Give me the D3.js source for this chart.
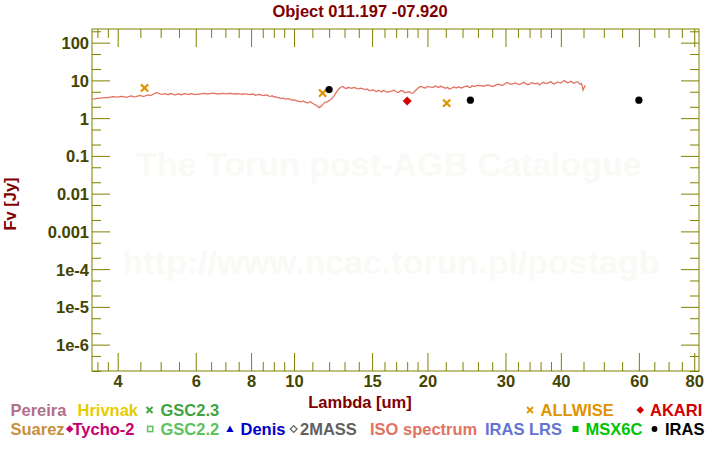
<!DOCTYPE html>
<html><head><meta charset="utf-8">
<script src="https://cdn.jsdelivr.net/npm/d3@7"></script>
<style>
body{margin:0;background:#fff}
svg{display:block}
text{font-family:"Liberation Sans",Arial,Helvetica,sans-serif;font-weight:bold}
</style>
</head><body>
<svg id="chart" width="720" height="450"></svg>
<script>
// ---------- DATA ----------
const isoWave = [
 3.5,3.55,3.6,3.65,3.7,3.75,3.8,3.85,3.9,3.95,4.0,4.05,4.1,4.15,4.2,4.25,4.3,4.35,4.4,4.45,4.5,4.55,4.6,4.65,4.7,4.75,4.8,4.85,4.9,4.95,5.0,5.05,5.1,5.15,5.2,5.25,5.3,5.35,5.4,5.45,5.5,5.55,5.6,5.65,5.7,5.75,5.8,5.85,5.9,5.95,6.0,
 6.08,6.15,6.23,6.3,6.38,6.45,6.53,6.6,6.68,6.75,6.83,6.9,6.98,7.05,7.13,7.2,7.28,7.35,7.43,7.5,7.58,7.65,7.73,7.8,7.88,7.95,8.03,8.1,8.18,8.25,8.33,8.4,8.48,8.55,8.63,8.7,8.78,8.85,8.93,9.0,9.08,9.15,9.23,9.3,9.38,9.45,9.53,9.6,9.68,9.75,9.83,9.9,
 10.0,10.13,10.25,10.38,10.5,10.63,10.75,10.88,11.0,11.13,11.25,11.38,11.5,11.63,11.75,11.88,12.0,12.13,12.25,12.38,12.5,12.63,12.75,12.88,13.0,13.13,13.25,13.38,13.5,13.63,13.75,13.88,14.0,14.13,14.25,14.38,14.5,14.63,14.75,14.88,15.0,15.13,15.25,15.38,15.5,15.63,15.75,15.88,16.0,
 16.2,16.4,16.6,16.8,17.0,17.2,17.4,17.6,17.8,18.0,18.2,18.4,18.6,18.8,19.0,19.2,19.4,19.6,19.8,20.0,20.2,20.4,20.6,20.8,21.0,21.2,21.4,21.6,21.8,22.0,22.2,22.4,22.6,22.8,23.0,23.2,23.4,23.6,23.8,24.0,24.2,24.4,24.6,24.8,25.0,25.2,25.4,25.6,25.8,26.0,
 26.35,26.7,27.05,27.4,27.75,28.1,28.45,28.8,29.15,29.5,29.85,30.2,30.55,30.9,31.25,31.6,31.95,32.3,32.65,33.0,33.35,33.7,34.05,34.4,34.75,35.1,35.45,35.8,36.15,36.5,36.85,37.2,37.55,37.9,38.25,38.6,38.95,39.3,39.65,40.0,40.35,40.7,41.05,41.4,41.75,42.1,42.45,42.8,43.15,43.5,43.85,44.2,44.55,44.9,45.4
];
const isoFlux = [
 3.18,3.22,3.32,3.40,3.46,3.50,3.52,3.62,3.70,3.66,3.62,3.70,3.75,3.64,3.55,3.80,3.86,3.68,3.74,3.90,3.98,3.78,3.85,4.02,4.15,3.95,4.22,4.55,4.75,4.50,4.35,4.25,4.45,4.30,4.18,4.50,4.40,4.22,4.12,4.30,4.38,4.15,4.28,4.48,4.42,4.30,4.20,4.45,4.40,4.22,4.25,
 4.30,4.38,4.46,4.52,4.36,4.44,4.52,4.60,4.42,4.48,4.40,4.55,4.45,4.40,4.55,4.50,4.42,4.36,4.48,4.42,4.35,4.30,4.40,4.38,4.25,4.22,4.30,4.30,4.05,4.12,4.25,4.20,4.02,3.95,4.10,4.05,3.85,3.78,3.90,3.62,3.70,3.55,3.50,3.38,3.30,3.42,3.25,3.18,3.30,3.22,3.08,3.02,
 3.05,2.92,2.78,2.70,2.85,2.62,2.55,2.72,2.48,2.30,2.15,1.90,2.05,2.35,2.62,2.70,2.95,3.20,3.60,4.30,5.10,6.00,6.60,6.90,6.30,6.10,6.55,6.30,6.20,6.55,6.35,6.05,5.95,6.25,6.10,5.85,5.70,5.95,5.45,5.35,5.60,5.50,5.20,5.10,5.45,5.25,4.95,5.40,5.30,
 4.85,5.05,5.20,5.50,5.00,4.80,5.35,5.25,4.70,4.90,5.05,4.55,4.70,5.40,6.10,6.70,6.90,6.40,6.30,6.95,6.70,6.60,6.45,7.10,6.80,6.50,7.00,6.85,6.40,6.20,6.60,5.90,6.10,6.45,6.70,6.30,6.55,6.75,6.30,6.40,6.80,6.95,7.10,6.60,6.45,7.20,7.00,6.85,7.30,7.40,
 7.25,7.00,7.30,7.60,7.15,6.90,7.40,7.90,7.70,7.30,7.95,8.80,8.30,7.90,8.20,8.60,8.05,7.80,8.40,8.90,8.20,7.70,8.10,8.70,8.40,8.10,8.50,7.60,8.30,8.90,8.50,8.20,8.70,9.30,8.60,8.00,8.40,9.10,8.80,8.50,9.20,9.90,9.30,8.70,8.90,9.50,9.00,8.40,8.80,9.20,8.70,7.80,8.30,5.60,7.40
];
const allwiseWave = [4.6, 11.6, 22.1];
const allwiseFlux = [6.3, 4.6, 2.5];
const irasWave = [12, 25, 60];
const irasFlux = [5.7, 3.0, 3.0];
const akariWave = [18];
const akariFlux = [2.83];

const xTickValues = [4,6,8,10,15,20,30,40,60,80];
const xMinorValues = [3.6,3.8,4.5,5,5.5,6.5,7,7.5,8.5,9,9.5,11,12,13,14,16,17,18,19,22,24,26,28,32,34,36,38,45,50,55,65,70,75];
const yTickValues = [1e-6,1e-5,1e-4,1e-3,1e-2,1e-1,1,10,100];
const yTickLabels = ["1e-6","1e-5","1e-4","0.001","0.01","0.1","1","10","100"];
const yMinorValues = [2e-7,5e-7,2e-6,5e-6,2e-5,5e-5,2e-4,5e-4,2e-3,5e-3,2e-2,5e-2,0.2,0.5,2,5,20,50,200];

const legendRow1 = [
 {label:"Pereira", color:"#b26f8a", sym:null},
 {label:"Hrivnak", color:"#e6cc00", sym:null},
 {label:"GSC2.3", color:"#3fa33f", sym:"x"},
 {label:"ALLWISE", color:"#e09400", sym:"x"},
 {label:"AKARI", color:"#d40000", sym:"diamond"}
];
const legendRow2 = [
 {label:"Suarez", color:"#c8903c", sym:null},
 {label:"Tycho-2", color:"#c8006e", sym:"diamond"},
 {label:"GSC2.2", color:"#5cc25c", sym:"square-open"},
 {label:"Denis", color:"#0000c8", sym:"triangle"},
 {label:"2MASS", color:"#606060", sym:"diamond-open"},
 {label:"ISO spectrum", color:"#e27262", sym:null},
 {label:"IRAS LRS", color:"#6474d4", sym:null},
 {label:"MSX6C", color:"#00c400", sym:"square"},
 {label:"IRAS", color:"#000000", sym:"circle"}
];

// ---------- LAYOUT ----------
const svg = d3.select("#chart");
const L = 92, R = 699, T = 29, B = 371;
const axisColor = "#808000", tickLabelColor = "#444400", titleColor = "#800000";
const FS = 16.5;

const x = d3.scaleLog().domain([3.5, 82]).range([L, R]);
const y = d3.scaleLog().domain([2e-7, 230]).range([B, T]);

// watermark
svg.append("text").attr("x", 389).attr("y", 176).attr("text-anchor","middle")
  .attr("font-size", 34).attr("fill", "#faf9f5").text("The Torun post-AGB Catalogue");
svg.append("text").attr("x", 391).attr("y", 274).attr("text-anchor","middle")
  .attr("font-size", 34).attr("fill", "#faf9f5").text("http://www.ncac.torun.pl/postagb");

// title
svg.append("text").attr("x", 360).attr("y", 17).attr("text-anchor","middle")
  .attr("font-size", FS).attr("fill", titleColor).text("Object 011.197 -07.920");

// axes via d3 axis generators
const major = 18, minor = 9;
function addAxis(gen, tr, vals, len) {
  const g = svg.append("g").attr("transform", tr)
    .call(gen.tickValues(vals).tickSize(len).tickFormat(""));
  g.select(".domain").remove();
  g.selectAll(".tick line").attr("stroke", axisColor).attr("stroke-width", 1);
  return g;
}
addAxis(d3.axisTop(x), `translate(0,${B})`, xTickValues, major);
addAxis(d3.axisTop(x), `translate(0,${B})`, xMinorValues, minor);
addAxis(d3.axisBottom(x), `translate(0,${T})`, xTickValues, major);
addAxis(d3.axisBottom(x), `translate(0,${T})`, xMinorValues, minor);
addAxis(d3.axisRight(y), `translate(${L},0)`, yTickValues, major);
addAxis(d3.axisRight(y), `translate(${L},0)`, yMinorValues, minor);
addAxis(d3.axisLeft(y), `translate(${R},0)`, yTickValues, major);
addAxis(d3.axisLeft(y), `translate(${R},0)`, yMinorValues, minor);

// tick labels
const xl = d3.axisBottom(x).tickValues(xTickValues).tickSize(0).tickPadding(0).tickFormat(d3.format("d"));
const gxl = svg.append("g").attr("transform", `translate(0,${B})`).call(xl);
gxl.select(".domain").remove();
gxl.selectAll(".tick text").attr("y", 16).attr("dy", 0).attr("font-size", FS)
  .attr("fill", tickLabelColor).attr("font-family", null);

const yl = d3.axisLeft(y).tickValues(yTickValues).tickSize(0).tickPadding(3)
  .tickFormat((d, i) => yTickLabels[i]);
const gyl = svg.append("g").attr("transform", `translate(${L},0)`).call(yl);
gyl.select(".domain").remove();
gyl.selectAll(".tick text").attr("font-size", FS).attr("fill", tickLabelColor)
  .attr("font-family", null).attr("dy", "0.36em");

// frame
svg.append("rect").attr("x", L).attr("y", T).attr("width", R - L).attr("height", B - T)
  .attr("fill", "none").attr("stroke", axisColor).attr("stroke-width", 1);

// axis titles
svg.append("text").attr("x", 360).attr("y", 408).attr("text-anchor","middle")
  .attr("font-size", FS).attr("fill", titleColor).text("Lambda [um]");
svg.append("text").attr("transform", "translate(16,204) rotate(-90)").attr("text-anchor","middle")
  .attr("font-size", FS).attr("fill", titleColor).text("Fv [Jy]");

// clip
svg.append("clipPath").attr("id","clip").append("rect")
  .attr("x", L).attr("y", T).attr("width", R - L).attr("height", B - T);

// ISO spectrum
const isoData = isoWave.map((w, i) => [w, isoFlux[i]]);
svg.append("path").datum(isoData).attr("clip-path","url(#clip)")
  .attr("fill","none").attr("stroke","#e27262").attr("stroke-width",1.3)
  .attr("d", d3.line().x(d => x(d[0])).y(d => y(d[1])));

// markers
function xMark(g, cx, cy, s, color, w) {
  g.append("path").attr("d", `M${cx-s},${cy-s}L${cx+s},${cy+s}M${cx-s},${cy+s}L${cx+s},${cy-s}`)
    .attr("stroke", color).attr("stroke-width", w).attr("fill","none");
}
const pts = svg.append("g").attr("clip-path","url(#clip)");
allwiseWave.forEach((w, i) => xMark(pts, x(w), y(allwiseFlux[i]), 3.6, "#e09400", 2.2));
pts.selectAll(".iras").data(irasWave.map((w,i)=>[w,irasFlux[i]])).join("circle")
  .attr("cx", d => x(d[0])).attr("cy", d => y(d[1])).attr("r", 3.6).attr("fill", "#000");
pts.selectAll(".akari").data(akariWave.map((w,i)=>[w,akariFlux[i]])).join("path")
  .attr("transform", d => `translate(${x(d[0])},${y(d[1])})`)
  .attr("d", "M0,-4.5L4.5,0L0,4.5L-4.5,0Z").attr("fill", "#d40000");

// legend
function drawSym(g, sym, cx, cy, color) {
  if (sym === "x") xMark(g, cx, cy, 3, color, 1.8);
  else if (sym === "diamond") g.append("path").attr("d", `M${cx},${cy-3.8}L${cx+3.8},${cy}L${cx},${cy+3.8}L${cx-3.8},${cy}Z`).attr("fill", color);
  else if (sym === "diamond-open") g.append("path").attr("d", `M${cx},${cy-3.4}L${cx+3.4},${cy}L${cx},${cy+3.4}L${cx-3.4},${cy}Z`).attr("fill","none").attr("stroke", color).attr("stroke-width",1.2);
  else if (sym === "square-open") g.append("rect").attr("x", cx-2.6).attr("y", cy-2.6).attr("width",5.2).attr("height",5.2).attr("fill","none").attr("stroke", color).attr("stroke-width",1.5);
  else if (sym === "square") g.append("rect").attr("x", cx-3).attr("y", cy-3).attr("width",6).attr("height",6).attr("fill", color);
  else if (sym === "triangle") g.append("path").attr("d", `M${cx},${cy-3.6}L${cx+3.6},${cy+3}L${cx-3.6},${cy+3}Z`).attr("fill", color);
  else if (sym === "circle") g.append("circle").attr("cx", cx).attr("cy", cy).attr("r", 2.9).attr("fill", color);
}
const row1Pos = [[null,10.5],[null,77.5],[149.5,160.5],[530,540.5],[640.3,650]];
const row2Pos = [[null,10.5],[69.7,72.5],[150.2,160.5],[230,240.5],[293.7,300],[null,370],[null,485],[575.5,585.5],[654.5,665]];
const lg = svg.append("g");
function drawRow(items, pos, baseline) {
  items.forEach((it, i) => {
    const [sx, tx] = pos[i];
    if (it.sym) drawSym(lg, it.sym, sx, baseline - 6, it.color);
    lg.append("text").attr("x", tx).attr("y", baseline).attr("font-size", FS)
      .attr("fill", it.color).text(it.label);
  });
}
drawRow(legendRow1, row1Pos, 416);
drawRow(legendRow2, row2Pos, 435);
</script>
</body></html>
